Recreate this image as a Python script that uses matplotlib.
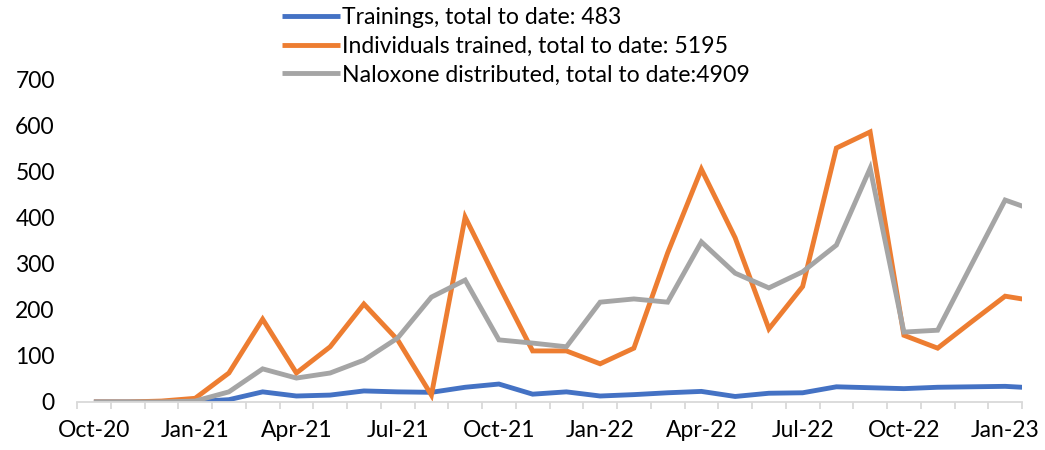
import matplotlib
matplotlib.use("Agg")
import matplotlib.pyplot as plt
import numpy as np
import pandas as pd

plt.rcParams['font.family'] = ['Lato', 'DejaVu Sans']

# monthly values, Oct-20 .. Feb-23 (last month only partly shown)
months = pd.date_range("2020-10-01", periods=29, freq="MS")
month_labels = [d.strftime("%b-%y") for d in months]

trainings = [0, 0, 0, 1, 5, 22, 13, 15, 24, 22, 21, 32, 39, 17, 22,
             13, 16, 20, 23, 12, 19, 20, 33, 31, 29, 32, 33, 34, 30]
individuals = [0, 0, 2, 8, 63, 180, 63, 120, 213, 135, 15, 402, 254, 111, 111,
               83, 117, 324, 506, 357, 159, 251, 552, 587, 145, 117, 174, 230, 218]
naloxone = [0, 0, 0, 2, 22, 72, 52, 63, 91, 139, 228, 265, 135, 128, 120,
            217, 224, 217, 348, 280, 248, 283, 341, 508, 152, 156, 298, 439, 413]

series_labels = ["Trainings, total to date: 483",
                 "Individuals trained, total to date: 5195",
                 "Naloxone distributed, total to date:4909"]
colors = ["#4472C4", "#ED7D31", "#A5A5A5"]

fig = plt.figure(figsize=(10.45, 4.5), dpi=100)
ax = fig.add_axes([0.0737, 0.1067, 0.9043, 0.7156])

x = np.arange(len(months))
for vals, lab, c in zip([trainings, individuals, naloxone], series_labels, colors):
    ax.plot(x, vals, color=c, lw=3.5, label=lab, solid_joinstyle="miter",
            solid_capstyle="butt")

ncat = 28
ax.set_xlim(-0.5, ncat - 0.5)
ax.set_ylim(0, 700)

ax.set_xticks(x[:ncat:3])
ax.set_xticklabels(month_labels[:ncat:3])
ax.set_xticks(np.arange(-0.5, ncat, 1.0), minor=True)
ax.tick_params(axis="x", which="major", length=0, pad=13, labelsize=16.5)
ax.tick_params(axis="x", which="minor", length=5, width=1.3, color="#D9D9D9")

ax.set_yticks(np.arange(0, 701, 100))
ax.tick_params(axis="y", length=0, pad=16, labelsize=16.5)

for s in ["left", "right", "top"]:
    ax.spines[s].set_visible(False)
ax.spines["bottom"].set_color("#D9D9D9")
ax.spines["bottom"].set_linewidth(1.3)

fig.legend(loc="upper left", bbox_to_anchor=(0.268, 0.99), frameon=False,
           fontsize=16.6, handlelength=2.5, handletextpad=0.1, labelspacing=0.34,
           borderaxespad=0, borderpad=0.1)

fig.savefig("out.png", dpi=100)
